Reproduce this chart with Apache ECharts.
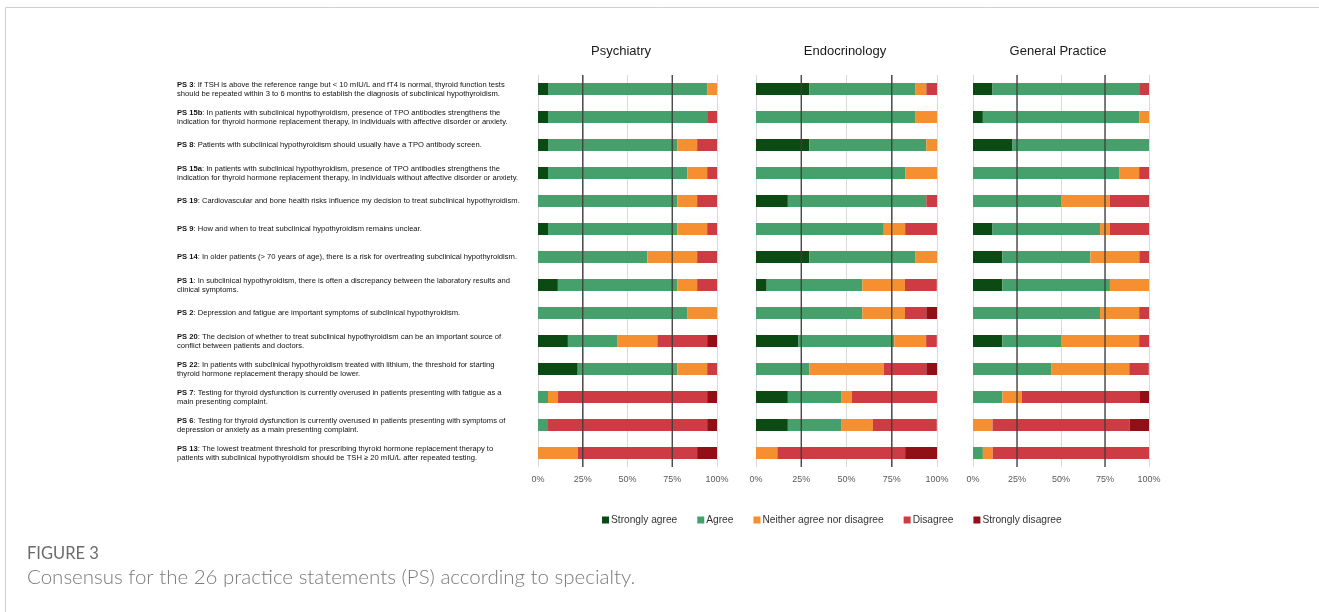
<!DOCTYPE html>
<html>
<head>
<meta charset="utf-8">
<script src="https://cdn.jsdelivr.net/npm/echarts@6/dist/echarts.min.js"></script>
<style>
html,body{margin:0;padding:0;background:#fff;}
#chart{width:1319px;height:612px;}
</style>
</head>
<body>
<div id="chart"></div>
<script>
// ---------- data ----------
var psIds = ['PS 3','PS 15b','PS 8','PS 15a','PS 19','PS 9','PS 14','PS 1','PS 2','PS 20','PS 22','PS 7','PS 6','PS 13'];
var psTexts = [
  ': If TSH is above the reference range but < 10 mIU/L and fT4 is normal, thyroid function tests\nshould be repeated within 3 to 6 months to establish the diagnosis of subclinical hypothyroidism.',
  ': In patients with subclinical hypothyroidism, presence of TPO antibodies strengthens the\nindication for thyroid hormone replacement therapy, in individuals with affective disorder or anxiety.',
  ': Patients with subclinical hypothyroidism should usually have a TPO antibody screen.',
  ': In patients with subclinical hypothyroidism, presence of TPO antibodies strengthens the\nindication for thyroid hormone replacement therapy, in individuals without affective disorder or anxiety.',
  ': Cardiovascular and bone health risks influence my decision to treat subclinical hypothyroidism.',
  ': How and when to treat subclinical hypothyroidism remains unclear.',
  ': In older patients (> 70 years of age), there is a risk for overtreating subclinical hypothyroidism.',
  ': In subclinical hypothyroidism, there is often a discrepancy between the laboratory results and\nclinical symptoms.',
  ': Depression and fatigue are important symptoms of subclinical hypothyroidism.',
  ': The decision of whether to treat subclinical hypothyroidism can be an important source of\nconflict between patients and doctors.',
  ': In patients with subclinical hypothyroidism treated with lithium, the threshold for starting\nthyroid hormone replacement therapy should be lower.',
  ': Testing for thyroid dysfunction is currently overused in patients presenting with fatigue as a\nmain presenting complaint.',
  ': Testing for thyroid dysfunction is currently overused in patients presenting with symptoms of\ndepression or anxiety as a main presenting complaint.',
  ': The lowest treatment threshold for prescribing thyroid hormone replacement therapy to\npatients with subclinical hypothyroidism should be TSH \u2265 20 mIU/L after repeated testing.'
];
var specialties = ['Psychiatry','Endocrinology','General Practice'];
var responses = ['Strongly agree','Agree','Neither agree nor disagree','Disagree','Strongly disagree'];
var tickLabels = ['0%','25%','50%','75%','100%'];
var refLines = [25, 75];

// Psychiatry (%)
var psyStronglyAgree = [5.6,5.6,5.6,5.6,0,5.6,0,11.1,0,16.7,22.2,0,0,0];
var psyAgree = [88.9,88.9,72.2,77.8,77.8,72.2,61.1,66.7,83.3,27.8,55.6,5.6,5.6,0];
var psyNeither = [5.6,0,11.1,11.1,11.1,16.7,27.8,11.1,16.7,22.2,16.7,5.6,0,22.2];
var psyDisagree = [0,5.6,11.1,5.6,11.1,5.6,11.1,11.1,0,27.8,5.6,83.3,88.9,66.7];
var psyStronglyDisagree = [0,0,0,0,0,0,0,0,0,5.6,0,5.6,5.6,11.1];

// Endocrinology (%)
var endStronglyAgree = [29.4,0,29.4,0,17.6,0,29.4,5.9,0,23.5,0,17.6,17.6,0];
var endAgree = [58.8,88.2,64.7,82.4,76.5,70.6,58.8,52.9,58.8,52.9,29.4,29.4,29.4,0];
var endNeither = [5.9,11.8,5.9,17.6,0,11.8,11.8,23.5,23.5,17.6,41.2,5.9,17.6,11.8];
var endDisagree = [5.9,0,0,0,5.9,17.6,0,17.6,11.8,5.9,23.5,47.1,35.3,70.6];
var endStronglyDisagree = [0,0,0,0,0,0,0,0,5.9,0,5.9,0,0,17.6];

// General Practice (%)
var gpStronglyAgree = [11.1,5.6,22.2,0,0,11.1,16.7,16.7,0,16.7,0,0,0,0];
var gpAgree = [83.3,88.9,77.8,83.3,50,61.1,50,61.1,72.2,33.3,44.4,16.7,0,5.6];
var gpNeither = [0,5.6,0,11.1,27.8,5.6,27.8,22.2,22.2,44.4,44.4,11.1,11.1,5.6];
var gpDisagree = [5.6,0,0,5.6,22.2,22.2,5.6,0,5.6,5.6,11.1,66.7,77.8,88.9];
var gpStronglyDisagree = [0,0,0,0,0,0,0,0,0,0,0,5.6,11.1,0];

// ---------- build ----------
var colors = ['#0b4a12','#45a06b','#f68f30','#cf3b42','#920f16'];
var panelData = [
  [psyStronglyAgree, psyAgree, psyNeither, psyDisagree, psyStronglyDisagree],
  [endStronglyAgree, endAgree, endNeither, endDisagree, endStronglyDisagree],
  [gpStronglyAgree, gpAgree, gpNeither, gpDisagree, gpStronglyDisagree]
];
var grids = [
  {left:538, width:179, top:75, height:392},
  {left:756, width:181, top:75, height:392},
  {left:973, width:176, top:75, height:392}
];
var titleX = [616, 840, 1053];
var fontFam = '"Liberation Sans", Arial, sans-serif';

var xAxes = [], yAxes = [], series = [], titles = [];
grids.forEach(function(g, i){
  xAxes.push({
    gridIndex:i, type:'value', min:0, max:100, interval:25,
    axisLine:{show:false}, axisTick:{show:false},
    splitLine:{show:true, lineStyle:{color:'#d9d9d9', width:1}},
    axisLabel:{
      formatter:function(v){ return tickLabels[Math.round(v/25)]; },
      color:'#595959', fontSize:9, fontFamily:fontFam, margin:8
    }
  });
  titles.push({
    text:specialties[i], left:titleX[i], top:40, textAlign:'center',
    textStyle:{fontSize:13, fontWeight:'normal', color:'#1a1a1a', fontFamily:fontFam}
  });
});
grids.forEach(function(g, i){
  yAxes.push({
    gridIndex:i, type:'category', data:psIds, inverse:true,
    axisLine:{show:false}, axisTick:{show:false}, splitLine:{show:false},
    axisLabel: i === 0 ? {
      show:true, align:'left', margin:361, interval:0,
      formatter:function(v, idx){
        var lines = psTexts[idx].split('\n');
        var s = '{b|' + v + '}{r|' + lines[0] + '}';
        for (var k = 1; k < lines.length; k++) s += '\n{r|' + lines[k] + '}';
        return s;
      },
      rich:{
        b:{fontWeight:'bold', fontSize:7.6, color:'#111', fontFamily:fontFam, lineHeight:9},
        r:{fontSize:7.6, color:'#111', fontFamily:fontFam, lineHeight:9}
      }
    } : {show:false}
  });
});
grids.forEach(function(g, i){
  yAxes.push({gridIndex:i, type:'value', min:0, max:1, show:false});
});

grids.forEach(function(g, i){
  responses.forEach(function(r, k){
    series.push({
      name:r, type:'bar', stack:'s'+i, xAxisIndex:i, yAxisIndex:i,
      barWidth:12, data:panelData[i][k],
      itemStyle:{color:colors[k]}, silent:true
    });
  });
  refLines.forEach(function(v){
    series.push({
      type:'line', xAxisIndex:i, yAxisIndex:3+i, data:[[v,0],[v,1]],
      symbol:'none', silent:true, z:10,
      lineStyle:{color:'#3d3d3d', width:1.3}
    });
  });
});

var chart = echarts.init(document.getElementById('chart'), null, {renderer:'canvas'});
chart.setOption({
  backgroundColor:'#ffffff',
  animation:false,
  title:titles,
  grid:grids,
  xAxis:xAxes,
  yAxis:yAxes,
  legend:{
    data:responses, left:597, top:510, itemWidth:7, itemHeight:7, itemGap:20,
    icon:'rect', selectedMode:false,
    textStyle:{fontSize:10.2, color:'#333', fontFamily:fontFam, padding:[0,0,0,-3]}
  },
  graphic:[
    {type:'polyline', silent:true, shape:{points:[[5.5,612],[5.5,7.5],[1319,7.5]]},
     style:{stroke:'#cfcfcf', lineWidth:1, fill:null}},
    {type:'text', left:27, top:545, silent:true,
     style:{text:'FIGURE 3', fontSize:16.5, fill:'#6b6b6b', fontFamily:'Lato, "Open Sans", sans-serif'}},
    {type:'text', left:27, top:567, silent:true,
     style:{text:'Consensus for the 26 practice statements (PS) according to specialty.', fontSize:20.5, fill:'#7a7a7a', fontWeight:300, fontFamily:'Lato, "Open Sans", sans-serif'}}
  ],
  series:series
});
</script>
</body>
</html>
